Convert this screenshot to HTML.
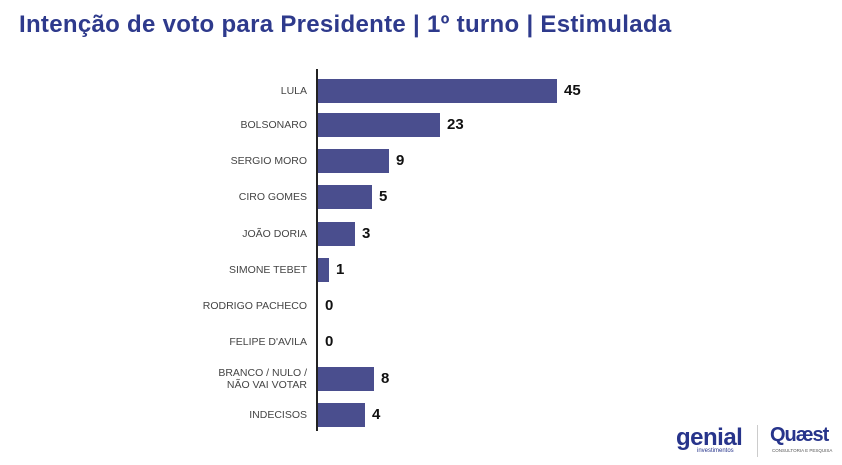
<!DOCTYPE html>
<html><head><meta charset="utf-8"><style>
body{margin:0;width:842px;height:465px;background:#fff;position:relative;overflow:hidden;font-family:"Liberation Sans",sans-serif}
.t{position:absolute;left:19px;top:11px;font-size:24px;font-weight:bold;color:#2e3a8c;letter-spacing:0.3px;white-space:nowrap}
.ax{position:absolute;left:316px;top:69px;width:1.5px;height:362px;background:#222}
.lab{position:absolute;right:535px;font-size:10.5px;color:#444;text-align:right;line-height:12px}
.bar{position:absolute;left:318px;height:24px;background:#4a4e8e}
.v{position:absolute;font-weight:bold;font-size:15px;color:#111}
</style></head><body>
<div class="t">Intenção de voto para Presidente | 1º turno | Estimulada</div>
<div class="ax"></div>
<div id="c"></div>
<script>
var d=[["LULA",45,91,239],["BOLSONARO",23,125,122],["SERGIO MORO",9,161,71],["CIRO GOMES",5,197,54],["JOÃO DORIA",3,234,37],["SIMONE TEBET",1,270,11],["RODRIGO PACHECO",0,306,0],["FELIPE D'AVILA",0,342,0],["BRANCO / NULO /<br>NÃO VAI VOTAR",8,379,56],["INDECISOS",4,415,47]];
var h="";d.forEach(function(r){var w=r[3];var two=r[0].indexOf("<br>")>0;
h+='<div class="lab" style="top:'+(r[2]-(two?12:6))+'px">'+r[0]+'</div>';
if(w>0)h+='<div class="bar" style="top:'+(r[2]-12)+'px;width:'+w+'px"></div>';
h+='<div class="v" style="top:'+(r[2]-9)+'px;left:'+(318+w+7)+'px">'+r[1]+'</div>';});
document.getElementById("c").innerHTML=h;
</script>
<div style="position:absolute;left:676px;top:424px;font-size:24px;color:#27348b;font-weight:bold;letter-spacing:-0.5px">genial</div>
<div style="position:absolute;left:697px;top:448px;font-size:6px;color:#27348b">investimentos</div>
<div style="position:absolute;left:757px;top:425px;width:1px;height:32px;background:#ccc"></div>
<div style="position:absolute;left:770px;top:424px;font-size:20px;color:#27348b;font-weight:bold;letter-spacing:-1px">Quæst</div>
<div style="position:absolute;left:772px;top:448px;font-size:4.5px;color:#555">CONSULTORIA E PESQUISA</div>
</body></html>
